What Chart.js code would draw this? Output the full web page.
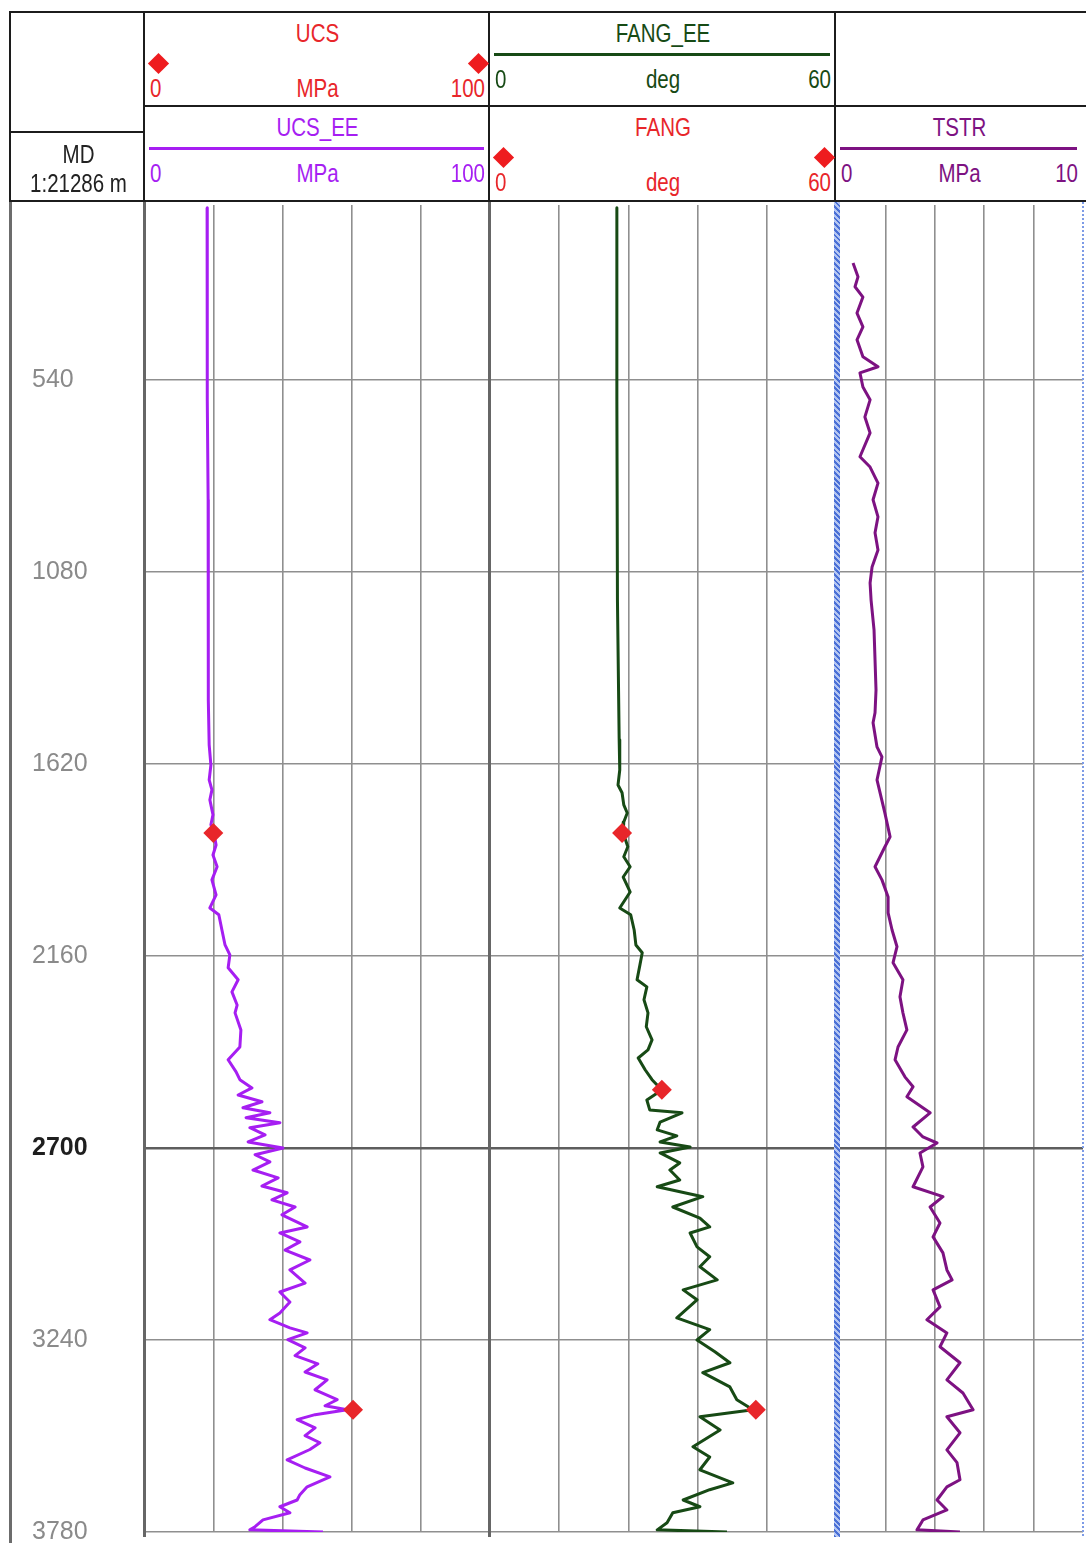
<!DOCTYPE html>
<html>
<head>
<meta charset="utf-8">
<title>UCS / FANG / TSTR log</title>
<script src="https://cdn.jsdelivr.net/npm/chart.js@4.4.1/dist/chart.umd.min.js"></script>
<style>
  body {
    margin: 0;
    background: #fff;
    width: 1086px;
    height: 1543px;
    overflow: hidden;
    position: relative;
    font-family: 'Liberation Sans', Arial, sans-serif;
  }
  canvas { position: absolute; }
  .rule { position: absolute; background: #1c1c1c; z-index: 5; }
  .edge { position: absolute; z-index: 5; }
  /* header text is drawn a bit condensed */
  .lbl {
    position: absolute;
    height: 30px;
    line-height: 30px;
    font-size: 25px;
    white-space: nowrap;
    z-index: 6;
    transform: scaleX(0.82);
    transform-origin: left center;
  }
  .ctr { text-align: center; transform-origin: center center; }
  .rgt { text-align: right; transform-origin: right center; }
  .dia {
    position: absolute;
    width: 15px;
    height: 15px;
    background: #ee1c1f;
    transform: rotate(45deg);
    z-index: 6;
  }
  .swatch { position: absolute; height: 3px; z-index: 6; }
</style>
</head>
<body>
<div id="header"></div>

<canvas id="track1" width="478" height="1343" style="left:12px; top:200px;"></canvas>
<canvas id="track2" width="346" height="1343" style="left:490px; top:200px;"></canvas>
<canvas id="track3" width="250" height="1343" style="left:836px; top:200px;"></canvas>

<!-- header frame -->
<div class="rule" style="left:9px; top:11px; width:1077px; height:2px;"></div>
<div class="rule" style="left:143px; top:105px; width:943px; height:2px;"></div>
<div class="rule" style="left:9px; top:131px; width:136px; height:2px;"></div>
<div class="rule" style="left:9px; top:200px; width:1077px; height:2px;"></div>
<div class="rule" style="left:143px; top:11px; width:2px; height:191px;"></div>
<div class="rule" style="left:488px; top:11px; width:2px; height:191px;"></div>
<div class="rule" style="left:834px; top:11px; width:2px; height:191px;"></div>
<div class="rule" style="left:9px; top:11px; width:2px; height:191px;"></div>

<!-- track boundaries in the log body -->
<div class="edge" style="left:9px; top:202px; width:3px; height:1341px; background:#6c6c6c;"></div>
<div class="edge" style="left:143px; top:202px; width:3px; height:1335px; background:#666;"></div>
<div class="edge" style="left:488px; top:202px; width:3px; height:1335px; background:#666;"></div>
<div class="edge" style="left:834px; top:202px; width:6px; height:1335px;
     background:repeating-linear-gradient(45deg, #4a70d6 0 2px, #b4c6f2 2px 4px);"></div>
<div class="edge" style="left:1082px; top:202px; width:2px; height:1335px;
     background:repeating-linear-gradient(to bottom, #7d9be6 0 2px, transparent 2px 4px);"></div>

<div class="lbl ctr" style="left:12px; width:133px; top:139px; color:#222;">MD</div>
<div class="lbl ctr" style="left:12px; width:133px; top:168px; color:#222;">1:21286 m</div>

<script>
// depth axis (m)
const depthTop = 48;
const depthBottom = 3780;
const depthTicks = [540, 1080, 1620, 2160, 2700, 3240, 3780];
const depthLabels = ['540', '1080', '1620', '2160', '2700', '3240', '3780'];

// curve headers
const curveNames = ['UCS', 'UCS_EE', 'FANG_EE', 'FANG', 'TSTR'];
const curveUnits = ['MPa', 'MPa', 'deg', 'deg', 'MPa'];
const curveMin = [0, 0, 0, 0, 0];
const curveMax = [100, 100, 60, 60, 10];
const curveColors = ['#e8262a', '#a61ef2', '#174a15', '#e8262a', '#7d1282'];
const curveTrack = [0, 0, 1, 1, 2];
const curveRow = [0, 1, 0, 1, 1];
const curveMarker = ['diamond', 'line', 'line', 'diamond', 'line'];

// grid spacing per track
const trackSteps = [20, 12, 2];

// UCS_EE, MPa
const ucsEeDepth = [56, 315, 596, 877, 1159, 1440, 1566, 1623, 1665, 1693, 1721, 1763, 1791, 1814,
  1848, 1876, 1909, 1946, 1988, 2025, 2044, 2087, 2129, 2157, 2193, 2227, 2261, 2298, 2320, 2368,
  2416, 2452, 2486, 2508, 2531, 2551, 2570, 2587, 2601, 2615, 2629, 2643, 2663, 2683, 2700, 2719,
  2739, 2762, 2784, 2807, 2826, 2846, 2866, 2888, 2922, 2939, 2964, 2987, 3015, 3043, 3080, 3105,
  3133, 3164, 3183, 3206, 3220, 3239, 3262, 3284, 3307, 3330, 3352, 3380, 3408, 3425, 3436, 3450,
  3464, 3487, 3509, 3529, 3548, 3577, 3600, 3625, 3653, 3675, 3690, 3709, 3726, 3746, 3765, 3774, 3780];
const ucsEeValue = [18.0, 18.0, 18.1, 18.3, 18.3, 18.4, 18.6, 19.1, 18.6, 19.4, 18.8, 19.7, 19.1, 20.0,
  20.6, 19.7, 20.9, 19.4, 20.6, 18.8, 21.4, 22.3, 23.2, 24.6, 24.1, 27.0, 25.2, 26.7, 26.1, 27.8,
  27.5, 24.1, 26.4, 27.5, 31.0, 27.0, 33.9, 28.4, 36.2, 29.3, 39.1, 30.4, 34.8, 29.9, 40.0, 31.9,
  36.2, 31.3, 38.6, 33.9, 41.2, 36.8, 43.5, 39.7, 47.0, 39.1, 44.9, 40.6, 47.8, 42.0, 46.4, 39.1,
  42.0, 39.1, 36.2, 42.0, 47.0, 41.4, 46.4, 43.5, 50.1, 46.4, 52.8, 49.3, 55.7, 52.2, 58.6, 49.3,
  44.1, 49.3, 46.4, 50.7, 47.8, 41.2, 46.4, 53.6, 47.0, 44.9, 44.1, 39.1, 42.0, 34.2, 31.9, 30.4, 51.6];

// UCS core points, MPa
const ucsDepth = [1814, 3436];
const ucsValue = [19.8, 60.3];

// FANG_EE, deg
const fangEeDepth = [56, 596, 1159, 1552, 1637, 1679, 1701, 1735, 1758, 1783, 1814, 1853, 1881, 1909,
  1938, 1980, 2025, 2044, 2087, 2129, 2151, 2185, 2227, 2247, 2283, 2320, 2359, 2396, 2424, 2447,
  2480, 2508, 2537, 2565, 2593, 2601, 2627, 2649, 2666, 2683, 2697, 2714, 2742, 2762, 2790, 2809,
  2837, 2866, 2897, 2922, 2939, 2978, 3006, 3034, 3071, 3099, 3127, 3178, 3211, 3240, 3273, 3304,
  3332, 3372, 3408, 3436, 3456, 3493, 3540, 3569, 3605, 3642, 3661, 3690, 3709, 3726, 3754, 3774, 3780];
const fangEeValue = [22.0, 22.0, 22.1, 22.4, 22.5, 22.2, 22.9, 23.2, 23.8, 23.2, 23.1, 23.9, 23.2, 24.3,
  23.1, 24.3, 22.5, 24.4, 25.0, 25.3, 26.4, 26.0, 25.5, 27.2, 26.7, 27.4, 27.1, 28.1, 27.4, 25.7,
  26.9, 28.1, 29.8, 27.2, 27.7, 33.3, 29.5, 29.0, 32.4, 29.5, 34.7, 29.5, 32.9, 31.2, 32.9, 29.0,
  36.9, 31.7, 36.4, 38.1, 34.7, 35.9, 38.1, 36.4, 39.4, 33.5, 35.9, 32.4, 38.1, 35.9, 39.0, 41.6,
  36.9, 41.6, 42.8, 45.6, 36.4, 39.9, 35.2, 38.1, 36.4, 42.1, 38.1, 33.5, 36.4, 31.7, 30.7, 29.0, 41.1];

// FANG core points, deg
const fangDepth = [1814, 2536, 3436];
const fangValue = [22.9, 29.8, 46.1];

// TSTR, MPa
const tstrDepth = [211, 250, 278, 307, 352, 391, 427, 475, 503, 520, 560, 596, 644, 689, 756, 785,
  830, 877, 925, 970, 1018, 1066, 1111, 1159, 1243, 1327, 1412, 1476, 1504, 1572, 1600, 1665, 1758,
  1825, 1853, 1909, 1946, 1994, 2039, 2087, 2134, 2179, 2227, 2275, 2320, 2368, 2416, 2452, 2500,
  2528, 2556, 2601, 2641, 2669, 2686, 2714, 2753, 2809, 2837, 2866, 2911, 2950, 2995, 3043, 3071,
  3099, 3147, 3183, 3220, 3259, 3304, 3352, 3389, 3436, 3456, 3501, 3549, 3585, 3633, 3653, 3690,
  3718, 3746, 3774, 3780];
const tstrValue = [0.69, 0.89, 0.77, 1.09, 0.85, 1.09, 0.85, 1.09, 1.70, 0.97, 1.09, 1.38, 1.17, 1.38,
  0.97, 1.38, 1.70, 1.50, 1.70, 1.58, 1.70, 1.46, 1.38, 1.42, 1.54, 1.58, 1.62, 1.58, 1.50, 1.66,
  1.86, 1.66, 1.98, 2.19, 1.98, 1.58, 1.86, 2.11, 2.11, 2.27, 2.47, 2.31, 2.71, 2.59, 2.71, 2.87,
  2.51, 2.39, 2.79, 3.12, 2.87, 3.81, 3.12, 3.52, 4.09, 3.40, 3.52, 3.12, 4.33, 3.81, 4.21, 3.93,
  4.33, 4.49, 4.70, 3.93, 4.21, 3.68, 4.49, 4.21, 5.02, 4.49, 5.14, 5.55, 4.49, 5.02, 4.49, 4.90,
  5.02, 4.49, 4.09, 4.49, 3.52, 3.28, 5.02];

// header layout
const trackEdges = [[145, 490], [490, 836], [836, 1083]];
const rowTops = [12, 106];
const header = document.getElementById('header');

function addEl(cls, css, text) {
  const el = document.createElement('div');
  el.className = cls;
  Object.assign(el.style, css);
  if (text !== undefined) el.textContent = text;
  header.appendChild(el);
  return el;
}

curveNames.forEach((name, i) => {
  const [left, right] = trackEdges[curveTrack[i]];
  const top = rowTops[curveRow[i]];
  const color = curveColors[i];
  const diamond = curveMarker[i] === 'diamond';
  const nameY = top + 21;
  const scaleY = top + (diamond ? 76 : 67);

  addEl('lbl ctr', { left: left + 'px', width: (right - left) + 'px', top: (nameY - 15) + 'px', color }, name);
  addEl('lbl ctr', { left: left + 'px', width: (right - left) + 'px', top: (scaleY - 15) + 'px', color }, curveUnits[i]);
  addEl('lbl', { left: (left + 5) + 'px', top: (scaleY - 15) + 'px', color }, String(curveMin[i]));
  addEl('lbl rgt', { left: (right - 60) + 'px', width: '55px', top: (scaleY - 15) + 'px', color }, String(curveMax[i]));

  if (diamond) {
    const y = top + 51 - 7.5;
    addEl('dia', { left: (left + 13 - 7.5) + 'px', top: y + 'px' });
    addEl('dia', { left: (right - 12 - 7.5) + 'px', top: y + 'px' });
  } else {
    addEl('swatch', { left: (left + 4) + 'px', width: (right - left - 10) + 'px', top: (top + 41) + 'px', background: color });
  }
});

// ---- log tracks ----
const gridGrey = '#8f8f8f';

function toPoints(depths, values) {
  return depths.map((d, i) => ({ x: values[i], y: d }));
}

function curve(depths, values, color) {
  return {
    data: toPoints(depths, values),
    showLine: true,
    borderColor: color,
    borderWidth: 3,
    borderJoinStyle: 'round',
    pointRadius: 0,
    tension: 0,
    order: 2
  };
}

function corePoints(depths, values, color) {
  return {
    data: toPoints(depths, values),
    showLine: false,
    pointStyle: 'rectRot',
    pointRadius: 10,
    backgroundColor: color,
    borderWidth: 0,
    order: 1
  };
}

function makeTrack(id, track, datasets, padding, showDepth) {
  const first = curveTrack.indexOf(track);
  return new Chart(document.getElementById(id), {
    type: 'scatter',
    data: { datasets },
    options: {
      responsive: false,
      animation: false,
      events: [],
      layout: { padding, autoPadding: false },
      plugins: { legend: { display: false }, tooltip: { enabled: false } },
      scales: {
        x: {
          type: 'linear',
          min: curveMin[first],
          max: curveMax[first],
          ticks: { display: false, stepSize: trackSteps[track] },
          border: { display: false },
          grid: {
            drawTicks: false,
            lineWidth: 1.6,
            color: c => (c.tick.value === c.scale.min || c.tick.value === c.scale.max) ? 'rgba(0,0,0,0)' : gridGrey
          }
        },
        y: {
          type: 'linear',
          reverse: true,
          min: depthTop,
          max: depthBottom,
          afterBuildTicks: s => { s.ticks = depthTicks.map(v => ({ value: v })); },
          afterFit: s => {
            s.width = showDepth ? 113 : 0;
            s.paddingTop = 0;
            s.paddingBottom = 0;
          },
          ticks: {
            display: showDepth,
            crossAlign: 'far',
            padding: 0,
            autoSkip: false,
            callback: (v, i) => depthLabels[i],
            color: c => c.tick && c.tick.value === 2700 ? '#1e1e1e' : '#8a8a8a',
            font: c => ({
              family: "'Liberation Sans', Arial, sans-serif",
              size: 25,
              weight: c.tick && c.tick.value === 2700 ? 'bold' : 'normal'
            })
          },
          border: { display: false },
          grid: {
            drawTicks: false,
            lineWidth: c => c.tick.value === 2700 ? 2.6 : 1.6,
            color: c => c.tick.value === 2700 ? '#5e5e5e' : gridGrey
          }
        }
      }
    }
  });
}

makeTrack('track1', 0, [
  corePoints(ucsDepth, ucsValue, curveColors[0]),
  curve(ucsEeDepth, ucsEeValue, curveColors[1])
], { left: 20, right: 0, top: 5, bottom: 11 }, true);

makeTrack('track2', 1, [
  corePoints(fangDepth, fangValue, curveColors[3]),
  curve(fangEeDepth, fangEeValue, curveColors[2])
], { left: 0, right: 0, top: 5, bottom: 11 }, false);

makeTrack('track3', 2, [
  curve(tstrDepth, tstrValue, curveColors[4])
], { left: 0, right: 3, top: 5, bottom: 11 }, false);
</script>
</body>
</html>
